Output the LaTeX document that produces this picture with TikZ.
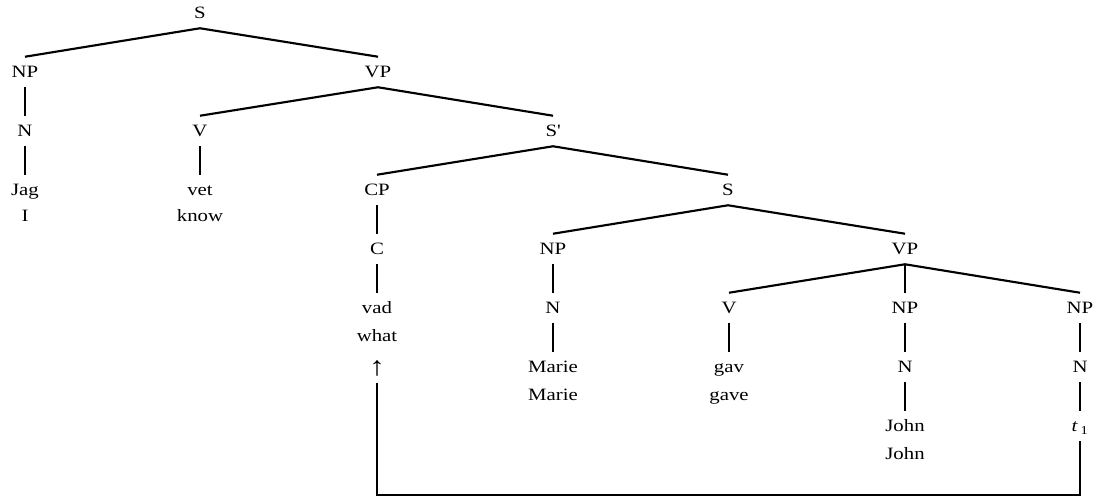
\documentclass[tikz,border=0pt]{standalone}
\usepackage{fontspec}
\setmainfont{Liberation Serif}[FakeStretch=1.2]
\usepackage{tikz}
\usetikzlibrary{calc}

\begin{document}
\begin{tikzpicture}[x=0.75pt,y=-0.75pt,
  lbl/.style={font=\fontsize{13}{15}\selectfont, text height=8.6pt, text depth=0pt, inner xsep=2pt, inner ysep=6.95pt},
  branch/.style={line width=1.6pt}]
\useasboundingbox (0,0) rectangle (1094,502);
% categories
\node[lbl] (s) at (200,13) {S};
\node[lbl] (np) at (25,72) {NP};
\node[lbl] (vp) at (378,72) {VP};
\node[lbl] (n) at (25,131) {N};
\node[lbl] (v) at (200,131) {V};
\node[lbl] (sbar) at (553,131) {S\textquotesingle};
\node[lbl] (cp) at (377,190) {CP};
\node[lbl] (s2) at (728,190) {S};
\node[lbl] (c) at (377,249) {C};
\node[lbl] (np2) at (553,249) {NP};
\node[lbl] (vp2) at (905,249) {VP};
\node[lbl] (n2) at (553,308) {N};
\node[lbl] (v2) at (729,308) {V};
\node[lbl] (np3) at (905,308) {NP};
\node[lbl] (np4) at (1080,308) {NP};
\node[lbl] (n3) at (905,367) {N};
\node[lbl] (n4) at (1080,367) {N};
% words and glosses
\node[lbl] (jag) at (25,190) {Jag};
\node[lbl] (jagg) at (25,216) {I};
\node[lbl] (vet) at (200,190) {vet};
\node[lbl] (vetg) at (200,216) {know};
\node[lbl] (vad) at (377,308) {vad};
\node[lbl] (vadg) at (377,336) {what};
\node[lbl, inner ysep=5pt] (up) at (377,370) {\fontsize{20}{20}\selectfont ↑};
\node[lbl] (marie) at (553,367) {Marie};
\node[lbl] (marieg) at (553,395) {Marie};
\node[lbl] (gav) at (729,367) {gav};
\node[lbl] (gavg) at (729,395) {gave};
\node[lbl] (john) at (905,426) {John};
\node[lbl] (johng) at (905,454) {John};
\node[lbl] (t) at (1080,426) {\textit{t}\,\textsubscript{1}};
% branches
\foreach \a/\b in {s/np, s/vp, np/n, n/jag, vp/v, vp/sbar, v/vet, sbar/cp, sbar/s2,
  cp/c, c/vad, s2/np2, s2/vp2, np2/n2, n2/marie, vp2/v2, vp2/np3, vp2/np4,
  v2/gav, np3/n3, n3/john, np4/n4, n4/t}
  \draw[branch] (\a.south) -- (\b.north);
% movement
\coordinate (bot) at (0,495);
\draw[branch] (up.south) -- (up.south |- bot) -| (t.south);
\end{tikzpicture}
\end{document}
